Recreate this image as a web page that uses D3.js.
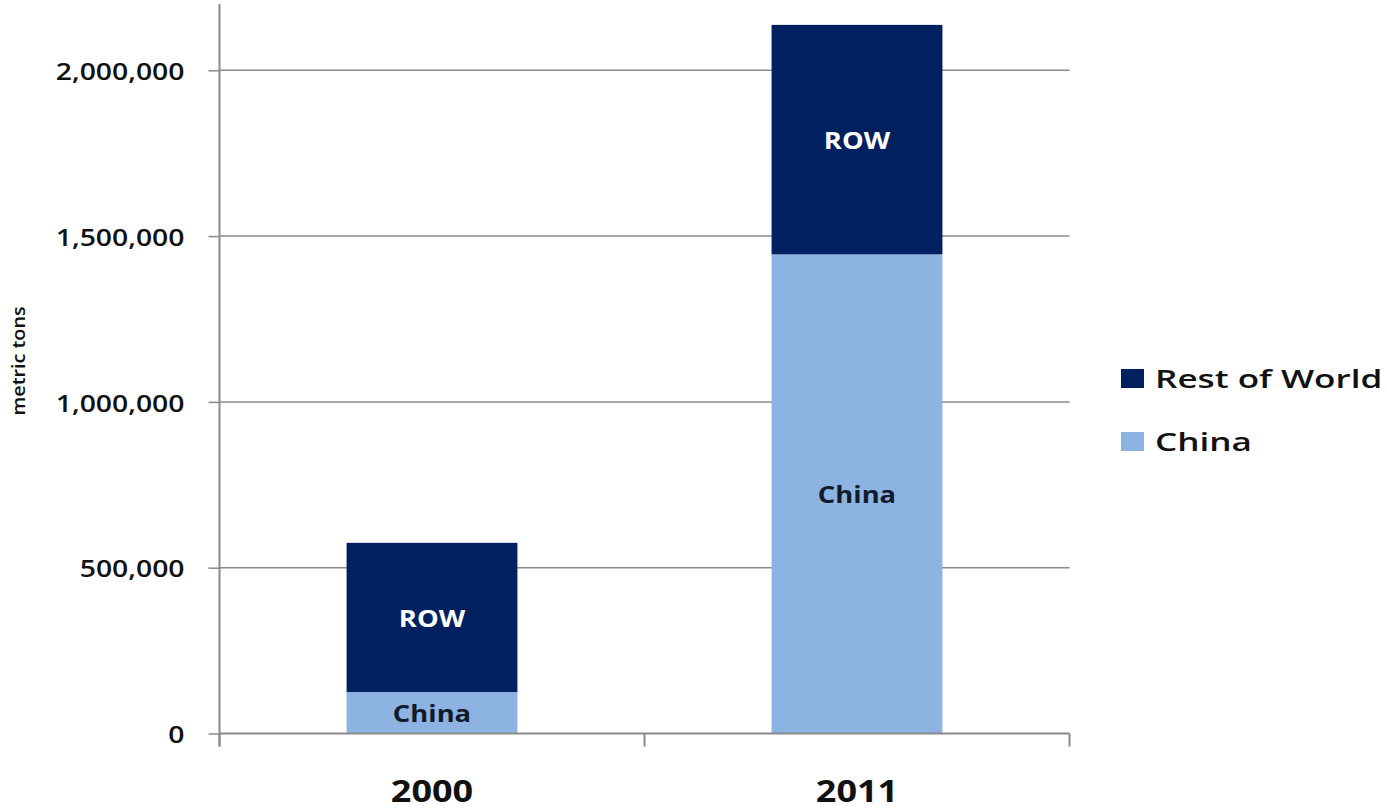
<!DOCTYPE html>
<html>
<head>
<meta charset="utf-8">
<script src="https://cdn.jsdelivr.net/npm/d3@7"></script>
<style>
  html, body { margin: 0; padding: 0; background: #fff; }
  svg { display: block; }
  text { font-family: "Open Sans", sans-serif; }
</style>
</head>
<body>
<svg id="chart" width="1387" height="811"></svg>
<script>
// Production by year, metric tons
const years = ["2000", "2011"];
const chinaValues = [125000, 1445000];
const rowValues = [450000, 692000];
const seriesNames = ["China", "Rest of World"];
const segmentLabels = ["China", "ROW"];
const yTicks = [0, 500000, 1000000, 1500000, 2000000];
const yMax = 2200000;

const colors = { "China": "#8db3e2", "Rest of World": "#002060" };
const labelColors = { "China": "#111a2a", "Rest of World": "#ffffff" };

const svg = d3.select("#chart");
const plot = { left: 219.5, right: 1069.5, top: 4, bottom: 733.5 };

const x = d3.scaleBand()
  .domain(years)
  .range([plot.left, plot.right])
  .paddingInner(0.598)
  .paddingOuter(0.299);

const y = d3.scaleLinear()
  .domain([0, yMax])
  .range([plot.bottom, plot.top]);

const table = years.map((yr, i) => ({ year: yr, "China": chinaValues[i], "Rest of World": rowValues[i] }));
const stacked = d3.stack().keys(seriesNames)(table);

const axisColor = "#8a8a8a";

// horizontal gridlines
svg.append("g")
  .selectAll("line")
  .data(yTicks.filter(d => d > 0))
  .join("line")
  .attr("x1", plot.left)
  .attr("x2", plot.right)
  .attr("y1", d => y(d))
  .attr("y2", d => y(d))
  .attr("stroke", axisColor)
  .attr("stroke-width", 1.5);

// stacked bars
const layers = svg.append("g")
  .selectAll("g")
  .data(stacked)
  .join("g")
  .attr("fill", d => colors[d.key]);

layers.selectAll("rect")
  .data(d => d)
  .join("rect")
  .attr("x", d => x(d.data.year))
  .attr("width", x.bandwidth())
  .attr("y", d => y(d[1]))
  .attr("height", d => y(d[0]) - y(d[1]));

// segment labels
stacked.forEach((layer, li) => {
  svg.append("g")
    .selectAll("text")
    .data(layer)
    .join("text")
    .attr("transform", d => `translate(${x(d.data.year) + x.bandwidth() / 2},${(y(d[0]) + y(d[1])) / 2}) scale(1.19,1)`)
    .attr("text-anchor", "middle")
    .attr("dominant-baseline", "central")
    .attr("font-size", 23)
    .attr("font-weight", 700)
    .attr("fill", labelColors[layer.key])
    .text(segmentLabels[li]);
});

// y axis
const yAxis = d3.axisLeft(y)
  .tickValues(yTicks)
  .tickSize(11)
  .tickPadding(0)
  .tickFormat(d3.format(","));

const gy = svg.append("g")
  .attr("transform", `translate(${plot.left},0)`)
  .call(yAxis);
gy.select(".domain").remove();
gy.selectAll(".tick line").attr("stroke", axisColor).attr("stroke-width", 1.5);
gy.selectAll(".tick text")
  .attr("x", null)
  .attr("dy", null)
  .attr("transform", "translate(-35,0) scale(1.18,1)")
  .attr("dominant-baseline", "central")
  .attr("text-anchor", "end")
  .attr("font-size", 24)
  .attr("font-weight", 600)
  .attr("font-family", "\"Open Sans\", sans-serif")
  .attr("fill", "#111");

svg.append("line")
  .attr("x1", plot.left).attr("x2", plot.left)
  .attr("y1", plot.top).attr("y2", plot.bottom + 13)
  .attr("stroke", axisColor).attr("stroke-width", 2);

// x axis with category boundary ticks
svg.append("line")
  .attr("x1", plot.left).attr("x2", plot.right)
  .attr("y1", plot.bottom).attr("y2", plot.bottom)
  .attr("stroke", axisColor).attr("stroke-width", 2);

svg.append("g")
  .selectAll("line")
  .data(years.map((yr, i) => i === 0 ? plot.left : (x(years[i - 1]) + x(yr) + x.bandwidth()) / 2).concat([plot.right]))
  .join("line")
  .attr("x1", d => d).attr("x2", d => d)
  .attr("y1", plot.bottom).attr("y2", plot.bottom + 13)
  .attr("stroke", axisColor).attr("stroke-width", 2);

svg.append("g")
  .selectAll("text")
  .data(years)
  .join("text")
  .attr("transform", d => `translate(${x(d) + x.bandwidth() / 2},802) scale(1.2,1)`)
  .attr("text-anchor", "middle")
  .attr("font-size", 30)
  .attr("font-weight", 700)
  .attr("fill", "#111")
  .text(d => d);

// y axis title
svg.append("text")
  .attr("transform", "translate(25,361) rotate(-90) scale(1.1,1)")
  .attr("text-anchor", "middle")
  .attr("font-size", 18)
  .attr("font-weight", 600)
  .attr("fill", "#111")
  .text("metric tons");

// legend (top entry is the top segment)
const legendItems = seriesNames.slice().reverse();
const legend = svg.append("g")
  .selectAll("g")
  .data(legendItems)
  .join("g")
  .attr("transform", (d, i) => `translate(1121,${369 + i * 63})`);

legend.append("rect")
  .attr("width", 23)
  .attr("height", 19)
  .attr("fill", d => colors[d]);

legend.append("text")
  .attr("transform", "translate(34,18.5) scale(1.35,1)")
  .attr("font-size", 26)
  .attr("font-weight", 600)
  .attr("fill", "#111")
  .text(d => d);
</script>
</body>
</html>
